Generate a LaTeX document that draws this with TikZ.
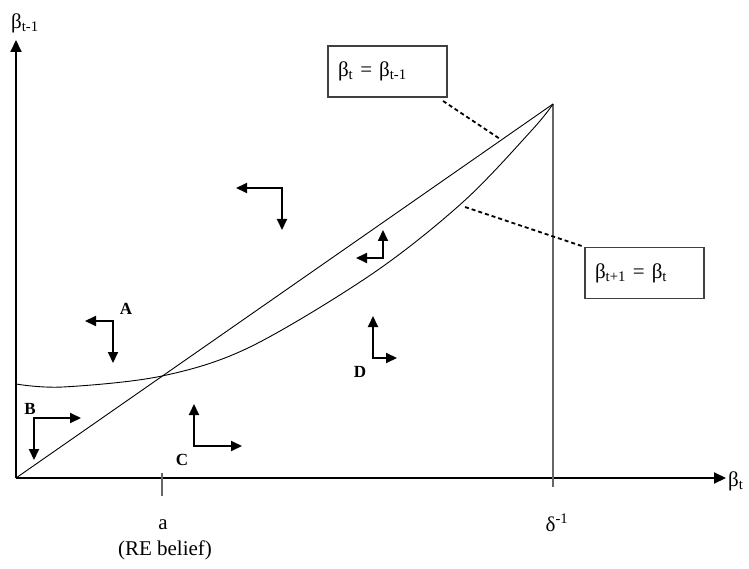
\documentclass[tikz,border=0pt]{standalone}
\usepackage{fontspec}
\setmainfont{Liberation Serif}
\usetikzlibrary{arrows.meta}
\begin{document}
\begin{tikzpicture}[x=1pt,y=-1pt,
  axis/.style={line width=2pt,-{Triangle[length=12pt,width=11pt]}},
  pairarrow/.style={line width=2pt,line join=miter,{Triangle[length=11pt,width=10pt]}-{Triangle[length=11pt,width=10pt]}},
  thincurve/.style={line width=0.9pt},
  guide/.style={line width=1.5pt,draw=black!60},
  leader/.style={line width=1.8pt,dash pattern=on 4pt off 3pt},
  eqbox/.style={draw=black!75,line width=1.2pt,text width=99pt,inner xsep=10pt,inner ysep=0pt,minimum height=51pt,align=left,font=\fontsize{21}{24}\selectfont},
  lbl/.style={font=\fontsize{21}{24}\selectfont,inner sep=0pt},
  reg/.style={font=\fontsize{17}{20}\selectfont\bfseries,inner sep=0pt}]
\useasboundingbox (0,0) rectangle (749,569);
% axes
\coordinate (O) at (16,478);
\coordinate (ytip) at (16,40);
\coordinate (xtip) at (726,478);
\draw[axis] (O) -- (ytip);
\draw[axis] (O) -- (xtip);
\node[lbl,anchor=west] (ylab) at (11,23) {β\textsubscript{t-1}};
\node[lbl,anchor=west] (xlab) at (728,481) {β\textsubscript{t}};
% ticks and guide
\coordinate (apex) at (553,104);
\coordinate (dbot) at (553,487);
\draw[guide] (apex) -- (dbot);
\coordinate (atop) at (162,473);
\coordinate (abot) at (162,496);
\draw[guide] (atop) -- (abot);
\node[lbl] (alab) at (163,525) {a};
\node[lbl] (relab) at (165,550) {(RE belief)};
\node[lbl] (dlab) at (557,523) {δ\textsuperscript{-1}};
% curves
\draw[thincurve] (O) -- (apex);
\draw[thincurve] plot[smooth,tension=0.55] coordinates {(16,384) (63,387) (162,376) (250,347) (372,274) (463,202) (532,130) (553,104)};
% boxes
\node[eqbox] (box1) at (387.5,71.5) {β\textsubscript{t} = β\textsubscript{t-1}};
\node[eqbox] (box2) at (644.5,273) {β\textsubscript{t+1} = β\textsubscript{t}};
\coordinate (l1a) at (443,101);
\coordinate (l1b) at (500,139);
\draw[leader] (l1a) -- (l1b);
\coordinate (l2a) at (465,207);
\draw[leader] (l2a) -- (box2.north west);
% direction arrows
\draw[pairarrow] (85,321) -- (113,321) -- (113,363);
\draw[pairarrow] (236,188) -- (282,188) -- (282,230);
\draw[pairarrow] (356,258) -- (383,258) -- (383,230);
\draw[pairarrow] (81,418) -- (34,418) -- (34,460);
\draw[pairarrow] (194,404) -- (194,446) -- (242,446);
\draw[pairarrow] (373,316) -- (373,358) -- (397,358);
% region labels
\node[reg] (rA) at (126,309) {A};
\node[reg] (rB) at (30,409) {B};
\node[reg] (rC) at (182,460) {C};
\node[reg] (rD) at (360,372) {D};
\end{tikzpicture}
\end{document}
